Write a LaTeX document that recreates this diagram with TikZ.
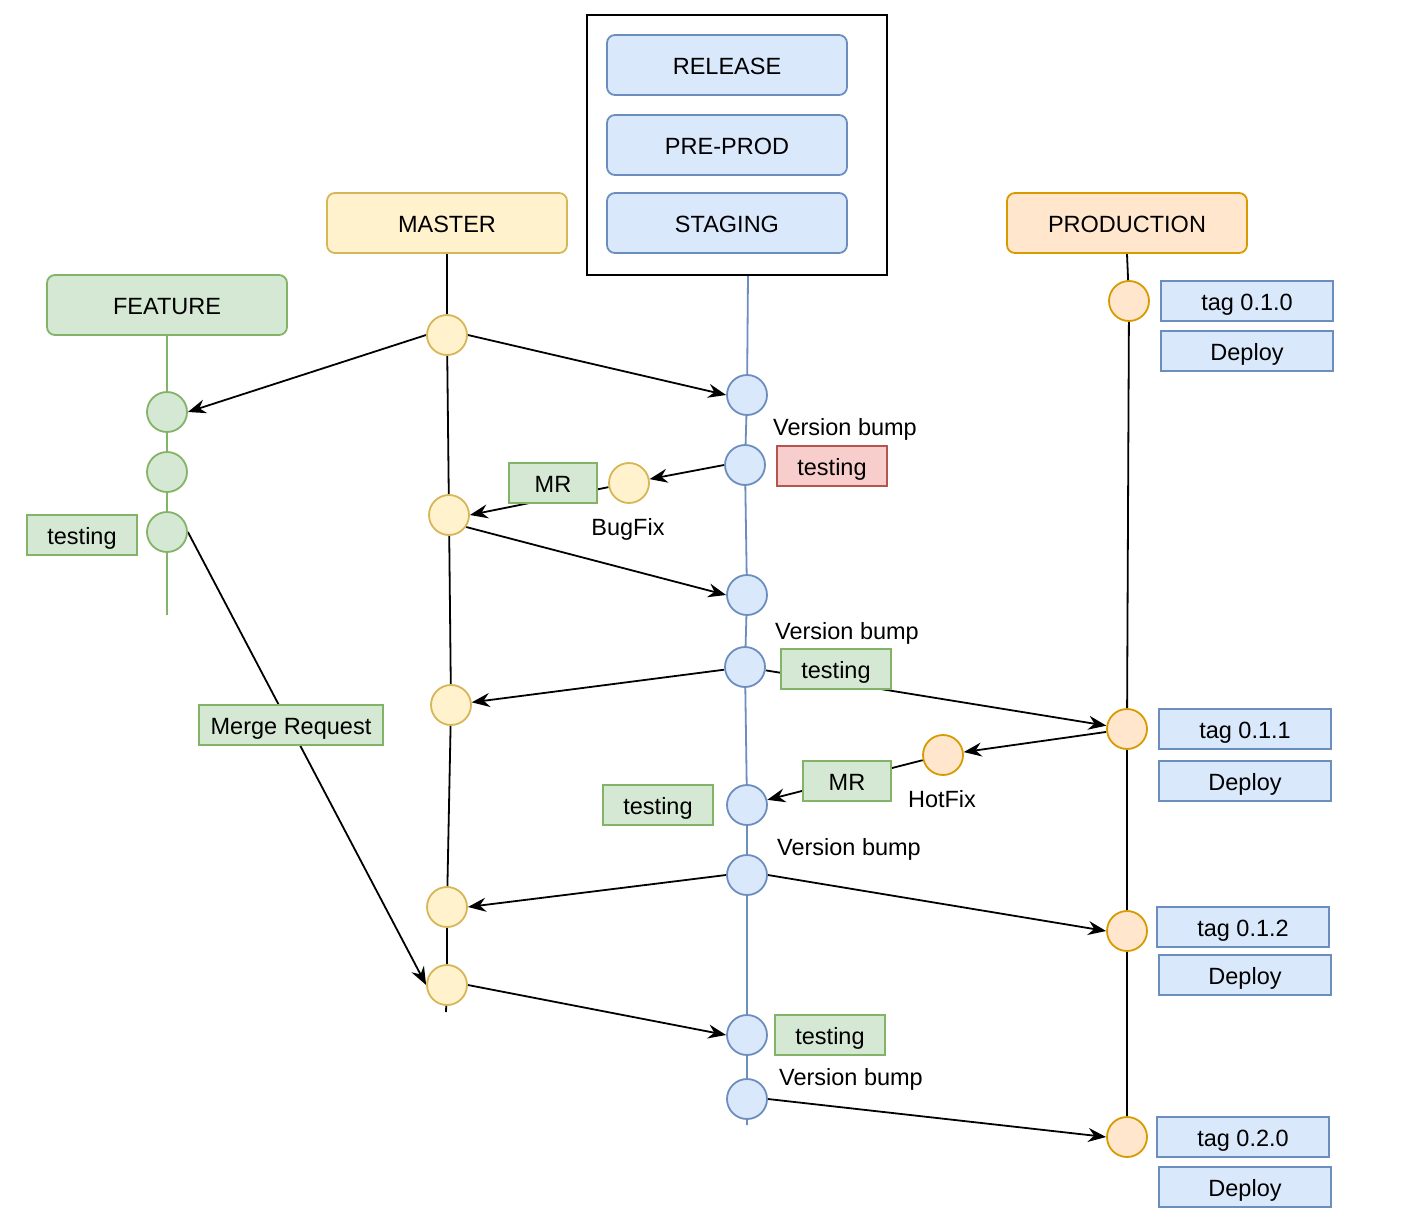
\documentclass[tikz,border=0pt]{standalone}
\usepackage{fontspec}
\setmainfont{Liberation Sans}
\usetikzlibrary{arrows.meta,backgrounds}
\definecolor{bluef}{HTML}{DAE8FC}\definecolor{blued}{HTML}{6C8EBF}
\definecolor{yelf}{HTML}{FFF2CC}\definecolor{yeld}{HTML}{D6B656}
\definecolor{orf}{HTML}{FFE6CC}\definecolor{ord}{HTML}{D79B00}
\definecolor{grf}{HTML}{D5E8D4}\definecolor{grd}{HTML}{82B366}
\definecolor{redf}{HTML}{F8CECC}\definecolor{redd}{HTML}{B85450}
\begin{document}
\begin{tikzpicture}[x=1pt,y=-1pt,
  every node/.style={font=\fontsize{23.5}{28}\selectfont, inner sep=0pt, text height=19pt, text depth=0pt},
  head/.style={draw, line width=1.8pt, rounded corners=8pt, minimum width=240pt, minimum height=60pt},
  lbl/.style={draw, line width=1.8pt, minimum height=40pt},
  commit/.style={circle, draw, line width=1.8pt, minimum size=40pt},
  bluebox/.style={fill=bluef, draw=blued},
  yelbox/.style={fill=yelf, draw=yeld},
  orbox/.style={fill=orf, draw=ord},
  grbox/.style={fill=grf, draw=grd},
  redbox/.style={fill=redf, draw=redd},
  arr/.style={line width=1.8pt, -{Stealth[length=18pt,width=14pt,inset=6pt]}},
  branch/.style={line width=1.8pt}
]
\useasboundingbox (0,0) rectangle (1406,1218);
% container
\node[draw, line width=1.8pt, minimum width=300pt, minimum height=260pt] (cont) at (737,145) {};
% headers
\node[head, bluebox] (rel) at (727,65) {RELEASE};
\node[head, bluebox] (pre) at (727,145) {PRE-PROD};
\node[head, bluebox] (stg) at (727,223) {STAGING};
\node[head, yelbox] (mst) at (447,223) {MASTER};
\node[head, orbox] (prd) at (1127,223) {PRODUCTION};
\node[head, grbox] (fea) at (167,305) {FEATURE};
% feature commits
\node[commit, grbox] (f1) at (167,412) {};
\node[commit, grbox] (f2) at (167,472) {};
\node[commit, grbox] (f3) at (167,532) {};
\coordinate (fend) at (167,615);
% master commits
\node[commit, yelbox] (m1) at (447,335) {};
\node[commit, yelbox] (m2) at (449,515) {};
\node[commit, yelbox] (m3) at (451,705) {};
\node[commit, yelbox] (m4) at (447,907) {};
\node[commit, yelbox] (m5) at (447,985) {};
\coordinate (mend) at (446,1012);
% staging commits
\coordinate (sstart) at (748,275);
\node[commit, bluebox] (s1) at (747,395) {};
\node[commit, bluebox] (s2) at (745,465) {};
\node[commit, bluebox] (s3) at (747,595) {};
\node[commit, bluebox] (s4) at (745,667) {};
\node[commit, bluebox] (s5) at (747,805) {};
\node[commit, bluebox] (s6) at (747,875) {};
\node[commit, bluebox] (s7) at (747,1035) {};
\node[commit, bluebox] (s8) at (747,1099) {};
\coordinate (send) at (747,1125);
% production commits
\node[commit, orbox] (p1) at (1129,301) {};
\node[commit, orbox] (p2) at (1127,729) {};
\node[commit, orbox] (p3) at (1127,931) {};
\node[commit, orbox] (p4) at (1127,1137) {};
% fix commits
\node[commit, yelbox] (bf) at (629,483) {};
\node[commit, orbox] (hf) at (943,755) {};
% labels
\node (vb1) at (845,426) {Version bump};
\node (vb2) at (847,630) {Version bump};
\node (vb3) at (849,846) {Version bump};
\node (vb4) at (851,1076) {Version bump};
\node (bft) at (628,526) {BugFix};
\node (hft) at (942,798) {HotFix};
\node[lbl, redbox, minimum width=110pt] (t1) at (832,466) {testing};
\node[lbl, grbox, minimum width=110pt] (t2) at (836,669) {testing};
\node[lbl, grbox, minimum width=110pt] (t3) at (658,805) {testing};
\node[lbl, grbox, minimum width=110pt] (t4) at (830,1035) {testing};
\node[lbl, grbox, minimum width=110pt] (tf) at (82,535) {testing};
\node[lbl, grbox, minimum width=88pt] (mr1) at (553,483) {MR};
\node[lbl, grbox, minimum width=88pt] (mr2) at (847,781) {MR};
\node[lbl, grbox, minimum width=184pt] (mreq) at (291,725) {Merge Request};
\node[lbl, bluebox, minimum width=172pt] (tg1) at (1247,301) {tag 0.1.0};
\node[lbl, bluebox, minimum width=172pt] (dp1) at (1247,351) {Deploy};
\node[lbl, bluebox, minimum width=172pt] (tg2) at (1245,729) {tag 0.1.1};
\node[lbl, bluebox, minimum width=172pt] (dp2) at (1245,781) {Deploy};
\node[lbl, bluebox, minimum width=172pt] (tg3) at (1243,927) {tag 0.1.2};
\node[lbl, bluebox, minimum width=172pt] (dp3) at (1245,975) {Deploy};
\node[lbl, bluebox, minimum width=172pt] (tg4) at (1243,1137) {tag 0.2.0};
\node[lbl, bluebox, minimum width=172pt] (dp4) at (1245,1187) {Deploy};
\begin{scope}[on background layer]
  \draw[branch, grd] (fea.south) -- (f1.center) -- (f2.center) -- (f3.center) -- (fend);
  \draw[branch] (mst.south) -- (m1.center) -- (m2.center) -- (m3.center) -- (m4.center) -- (m5.center) -- (mend);
  \draw[branch, blued] (sstart) -- (s1.center) -- (s2.center) -- (s3.center) -- (s4.center) -- (s5.center) -- (s6.center) -- (s7.center) -- (s8.center) -- (send);
  \draw[branch] (prd.south) -- (p1.center) -- (p2.center) -- (p3.center) -- (p4.center);
  \draw[arr] (m1.west) -- (f1.east);
  \draw[arr] (m1.east) -- (s1.west);
  \draw[arr] (s2.west) -- (bf);
  \draw[arr] (bf) -- (m2.east);
  \draw[arr] (m2.-35) -- (s3.west);
  \draw[arr] (s4) -- (m3);
  \draw[arr] (s4) -- (p2);
  \draw[arr] (p2) -- (hf);
  \draw[arr] (hf) -- (s5);
  \draw[arr] (s6.west) -- (m4.east);
  \draw[arr] (s6.east) -- (p3.west);
  \draw[arr] (f3.east) -- (m5.west);
  \draw[arr] (m5.east) -- (s7.west);
  \draw[arr] (s8.east) -- (p4.west);
\end{scope}
\end{tikzpicture}
\end{document}
